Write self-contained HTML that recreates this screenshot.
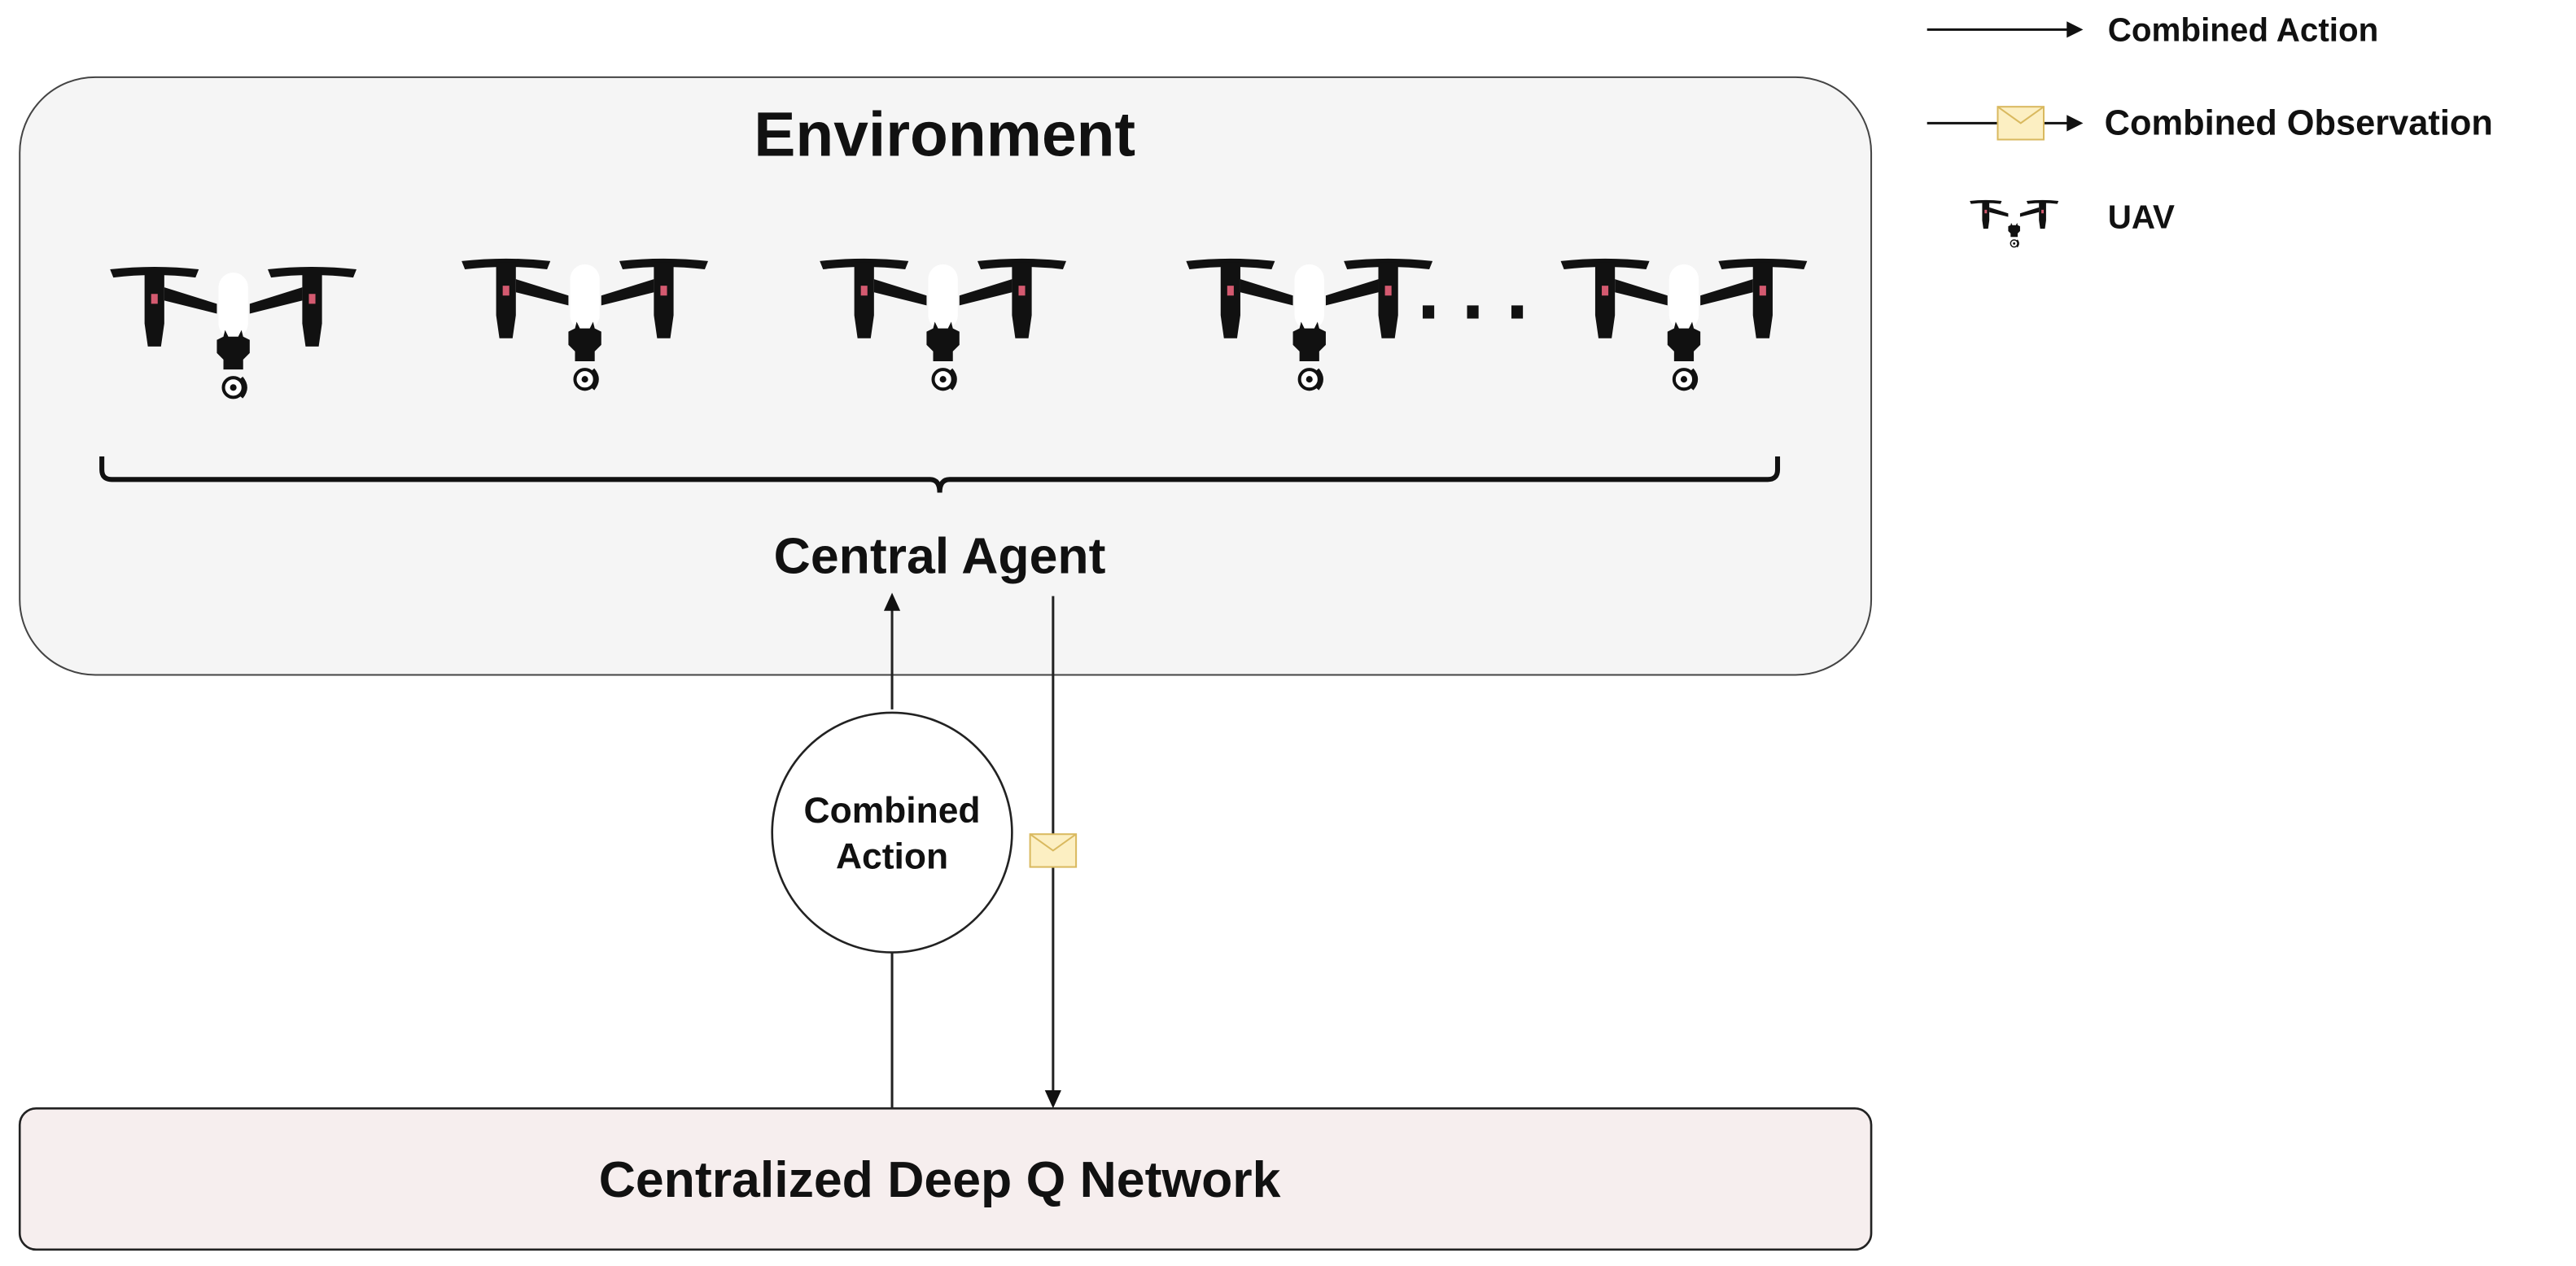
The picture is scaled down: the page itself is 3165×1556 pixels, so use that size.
<!DOCTYPE html>
<html><head><meta charset="utf-8"><style>
html,body{margin:0;padding:0;background:#fff}
svg{display:block}
text{font-family:"Liberation Sans",Arial,sans-serif;font-weight:bold;fill:#111}
</style></head><body>
<svg width="3165" height="1556" viewBox="0 0 1568 771" preserveAspectRatio="none" xmlns="http://www.w3.org/2000/svg">
<defs>
<g id="drone">
  <path d="M-75,1 Q-48,-2 -21,1 L-23,6 Q-48,3 -73,6 Z" fill="#111"/>
  <path d="M75,1 Q48,-2 21,1 L23,6 Q48,3 73,6 Z" fill="#111"/>
  <rect x="-9" y="3" width="18" height="40" rx="9" fill="#fff"/>
  <path d="M-42,12 L-10,22 L-10,28 L-42,20 Z" fill="#111"/>
  <path d="M42,12 L10,22 L10,28 L42,20 Z" fill="#111"/>
  <path d="M-54,2 L-42,2 L-42,34 L-44,48 L-52,48 L-54,34 Z" fill="#111"/>
  <path d="M54,2 L42,2 L42,34 L44,48 L52,48 L54,34 Z" fill="#111"/>
  <rect x="-50" y="16" width="4" height="6" fill="#d45a70"/>
  <rect x="46" y="16" width="4" height="6" fill="#d45a70"/>
  <path d="M-5,38 L-3,42 L3,42 L5,38 L6,42 L10,44 L10,52 L6,56 L6,62 L-6,62 L-6,56 L-10,52 L-10,44 L-6,42 Z" fill="#111"/>
  <circle cx="0" cy="73" r="6" fill="#fff" stroke="#111" stroke-width="2"/>
  <circle cx="0" cy="73" r="2" fill="#111"/>
  <path d="M5,67 Q10,73 5,79" fill="none" stroke="#111" stroke-width="2"/>
</g>
<g id="env"><rect x="-14" y="-10" width="28" height="20" fill="#fcefc2" stroke="#d9b95f" stroke-width="1"/><path d="M-14,-10 L0,0 L14,-10" fill="none" stroke="#d9b95f" stroke-width="1"/></g>
</defs>
<rect x="12" y="47" width="1127" height="364" rx="46" fill="#f5f5f5" stroke="#444" stroke-width="1"/>
<text x="575" y="95" font-size="38" text-anchor="middle">Environment</text>
<use href="#drone" x="142" y="163"/>
<use href="#drone" x="356" y="158"/>
<use href="#drone" x="574" y="158"/>
<use href="#drone" x="797" y="158"/>
<use href="#drone" x="1025" y="158"/>
<rect x="866" y="186" width="7" height="8" fill="#111"/>
<rect x="893" y="186" width="7" height="8" fill="#111"/>
<rect x="920" y="186" width="7" height="8" fill="#111"/>
<path d="M62,278 L62,286 Q62,292 68,292 L566,292 Q572,292 572,300 Q572,292 578,292 L1076,292 Q1082,292 1082,286 L1082,278" fill="none" stroke="#111" stroke-width="3"/>
<text x="572" y="349" font-size="31" text-anchor="middle">Central Agent</text>
<line x1="543" y1="432" x2="543" y2="368" stroke="#222" stroke-width="1.5"/>
<path d="M543,361 L538,372 L548,372 Z" fill="#111"/>
<circle cx="543" cy="507" r="73" fill="#fff" stroke="#222" stroke-width="1.3"/>
<text x="543" y="501" font-size="22" text-anchor="middle">Combined</text>
<text x="543" y="529" font-size="22" text-anchor="middle">Action</text>
<line x1="543" y1="580" x2="543" y2="676" stroke="#222" stroke-width="1.5"/>
<line x1="641" y1="363" x2="641" y2="667" stroke="#222" stroke-width="1.5"/>
<path d="M641,675 L636,664 L646,664 Z" fill="#111"/>
<use href="#env" x="641" y="518"/>
<rect x="12" y="675" width="1127" height="86" rx="10" fill="#f6eeee" stroke="#222" stroke-width="1.3"/>
<text x="572" y="729" font-size="31" text-anchor="middle">Centralized Deep Q Network</text>
<line x1="1173" y1="18" x2="1262" y2="18" stroke="#111" stroke-width="1.5"/>
<path d="M1268,18 L1258,13 L1258,23 Z" fill="#111"/>
<text x="1283" y="25" font-size="20">Combined Action</text>
<line x1="1173" y1="75" x2="1262" y2="75" stroke="#111" stroke-width="1.5"/>
<use href="#env" x="1230" y="75"/>
<path d="M1268,75 L1258,70 L1258,80 Z" fill="#111"/>
<text x="1281" y="82" font-size="21.5">Combined Observation</text>
<g transform="translate(1226,122) scale(0.36)"><use href="#drone"/></g>
<text x="1283" y="139" font-size="20">UAV</text>
</svg>
</body></html>
